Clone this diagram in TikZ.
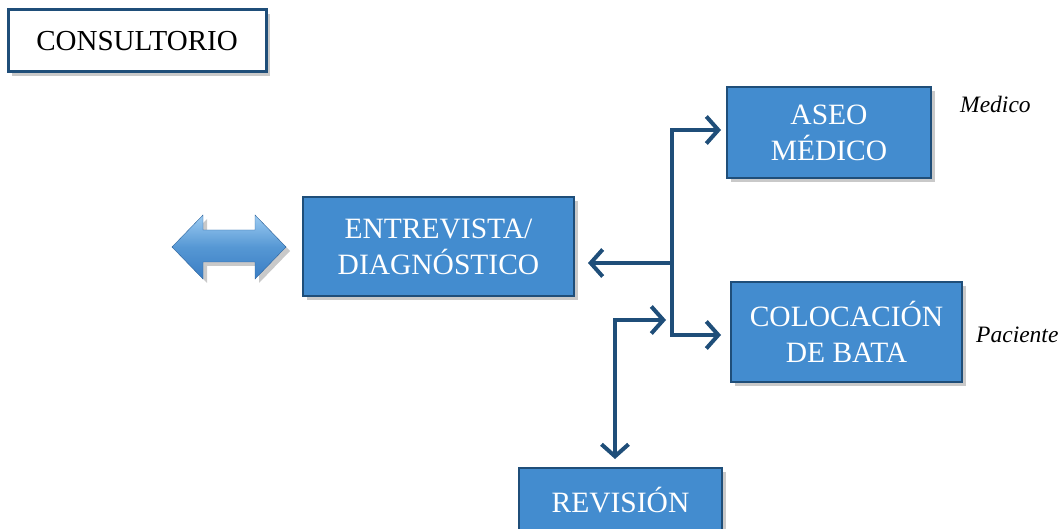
\documentclass[tikz,border=0pt]{standalone}
\usepackage{fontspec}
\setmainfont{Liberation Serif}
\usetikzlibrary{arrows.meta,shadows,calc}
\definecolor{boxblue}{HTML}{438CCF}
\definecolor{edgeblue}{HTML}{1F4E79}
\definecolor{arrlight}{HTML}{9CCBF2}
\definecolor{arrdark}{HTML}{3A7DC4}
\begin{document}
\begin{tikzpicture}[x=1pt,y=-1pt]
\useasboundingbox (0,0) rectangle (1063,529);
\tikzset{
  shad/.style={drop shadow={shadow xshift=4pt, shadow yshift=-4pt, opacity=0.3, fill=black!70}},
  bluebox/.style={shad, draw=edgeblue, line width=2pt, fill=boxblue, text=white, align=center,
    inner sep=0pt, font=\fontsize{29.5}{36}\selectfont},
  titlebox/.style={shad, draw=edgeblue, line width=3pt, fill=white, text=black, align=center,
    inner sep=0pt, font=\fontsize{29}{35}\selectfont},
  conn/.style={draw=edgeblue, line width=4pt, line join=miter,
    {Straight Barb[length=12pt,width=27pt]}-{Straight Barb[length=12pt,width=27pt]}},
  connone/.style={draw=edgeblue, line width=4pt, -{Straight Barb[length=12pt,width=27pt]}},
  lbl/.style={font=\itshape\fontsize{23.5}{28}\selectfont, inner sep=0pt}
}
% nodes
\node[titlebox, minimum width=258pt, minimum height=62pt] (consul) at (137,41) {CONSULTORIO};
\node[bluebox, minimum width=271pt, minimum height=99pt] (entre) at (438.5,246.5) {ENTREVISTA/\\DIAGNÓSTICO};
\node[bluebox, minimum width=204pt, minimum height=91pt] (aseo) at (829,132.5) {ASEO\\MÉDICO};
\node[bluebox, minimum width=231pt, minimum height=100pt] (colo) at (846.5,332) {COLOCACIÓN\\DE BATA};
\node[bluebox, minimum width=203pt, minimum height=64pt] (rev) at (620.5,500) {REVISIÓN};
\node[lbl, anchor=west] (med) at (960,104) {Medico};
\node[lbl, anchor=west] (pac) at (976,335) {Paciente};
% left double block arrow
\path[shad, draw=arrdark!80!black, line width=0.4pt, top color=arrlight, bottom color=arrdark, middle color=boxblue!90!white]
  (172,247) -- (203,215) -- (203,230) -- (255,230) -- (255,215) -- (286,247)
  -- (255,279) -- (255,262) -- (203,262) -- (203,279) -- cycle;
% connectors
\coordinate (ct) at (672,130);
\coordinate (cb) at (672,335);
\coordinate (cm) at (672,263);
\coordinate (rk) at (615,320);
\draw[conn, shorten <=5pt, shorten >=9pt] (ct -| aseo.west) -- (ct) -- (cb) -- (cb -| colo.west);
\draw[connone, shorten >=13pt] (cm) -- (cm -| entre.east);
\draw[conn, shorten <=6pt, shorten >=8pt] (cm |- rk) -- (rk) -- (rk |- rev.north);
\end{tikzpicture}
\end{document}
